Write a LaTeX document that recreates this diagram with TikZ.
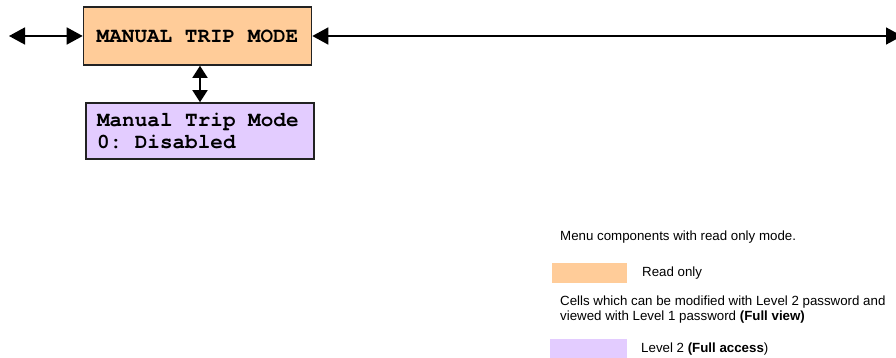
\documentclass[tikz,border=0pt]{standalone}
\usepackage{fontspec}
\setmainfont{Liberation Sans}
\newfontfamily\cour{texgyrecursor}[Extension=.otf, UprightFont=*-regular, BoldFont=*-bold]
\usetikzlibrary{arrows.meta}
\frenchspacing
\definecolor{roorange}{HTML}{FFCC99}
\definecolor{lvlpurple}{HTML}{E3CCFF}
\definecolor{boxline}{HTML}{222222}
\tikzset{
  menubox/.style={draw=boxline, line width=1.6pt, inner sep=0pt},
  conn/.style={line width=1.6pt, {Triangle[length=16pt,width=17pt]}-{Triangle[length=16pt,width=17pt]}},
  vconn/.style={line width=1.6pt, {Triangle[length=12pt,width=15pt]}-{Triangle[length=12pt,width=15pt]}},
  legtext/.style={font=\fontsize{13.3}{15}\selectfont, anchor=west, inner sep=0pt, align=left},
  swatch/.style={inner sep=0pt, draw=none}
}
\begin{document}
\begin{tikzpicture}[x=1pt,y=-1pt]
\useasboundingbox (0,0) rectangle (896,358);
\clip (0,0) rectangle (896,358);
\node[menubox, fill=roorange, minimum width=228pt, minimum height=58pt, font=\cour\bfseries\fontsize{21}{22}\selectfont] (trip) at (197.5,36) {MANUAL TRIP MODE};
\node[menubox, fill=lvlpurple, minimum width=228pt, minimum height=56pt, text width=206pt, align=flush left, font=\frenchspacing\cour\bfseries\fontsize{21}{22}\selectfont] (mtm) at (200,131) {Manual Trip Mode\\0: Disabled};
\coordinate (lend) at (9,36);
\coordinate (rend) at (902,36);
\draw[conn] (lend) -- (trip.west);
\draw[conn] (trip.east) -- (rend);
\draw[vconn] (trip.south -| 200,0) -- (mtm.north);
\node[legtext] (l1) at (560,237) {Menu components with read only mode.};
\node[swatch, fill=roorange, minimum width=75pt, minimum height=20pt] (s1) at (589.5,273) {};
\node[legtext] (l2) at (642,273) {Read only};
\node[legtext] (l3) at (560,310) {Cells which can be modified with Level 2 password and\\viewed with Level 1 password \textbf{(Full view)}};
\node[swatch, fill=lvlpurple, minimum width=77pt, minimum height=20pt] (s2) at (588.5,349) {};
\node[legtext] (l4) at (641,349) {Level 2 \textbf{(Full access})};
\end{tikzpicture}
\end{document}
